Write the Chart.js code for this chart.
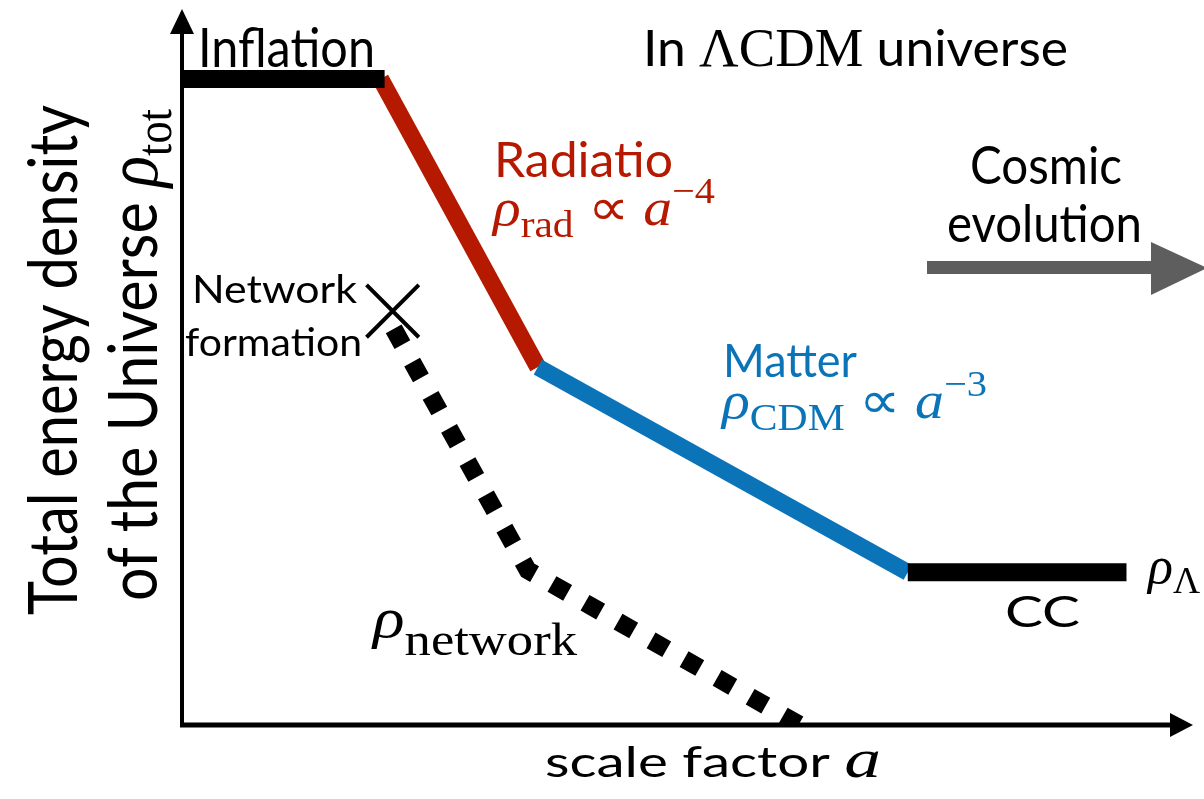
<!DOCTYPE html>
<html>
<head>
<meta charset="utf-8">
<script src="https://cdn.jsdelivr.net/npm/chart.js@4.4.1/dist/chart.umd.min.js"></script>
<style>
  html, body { margin: 0; padding: 0; background: #fff; }
  #wrap { width: 1204px; height: 799px; }
</style>
</head>
<body>
<div id="wrap"><canvas id="myChart" width="1204" height="799"></canvas></div>
<script>
// schematic units: log scale factor (x) and log total energy density (y), 0..10
const inflationA = [0, 2.01];
const inflationRho = [9.1, 9.1];
const radiationA = [1.97, 3.53];
const radiationRho = [9.1, 5.04];
const matterA = [3.53, 7.2];
const matterRho = [5.04, 2.15];
const ccA = [7.2, 9.37];
const ccRho = [2.15, 2.15];
const networkA = [2.1, 3.43, 6.13];
const networkRho = [5.58, 2.18, 0];
const formationA = [2.09];
const formationRho = [5.83];

const RED = '#b51a00';
const BLUE = '#0b74b9';

function pts(xs, ys) {
  return xs.map((x, i) => ({ x: x, y: ys[i] }));
}

function segment(xs, ys, color, width) {
  return {
    data: pts(xs, ys),
    showLine: true,
    borderColor: color,
    borderWidth: width,
    borderCapStyle: 'butt',
    borderJoinStyle: 'miter',
    pointRadius: 0,
    tension: 0
  };
}

// text labels: parts = [text, style, relative size, baseline shift (em)]
const labels = [
  { x: 198, y: 67, w: 177, size: 54, color: '#000', parts: [['Inflation', 's', 1, 0]] },
  { x: 643, y: 66, w: 425, size: 51, color: '#000',
    parts: [['In ', 's', 1, 0], ['ΛCDM', 'r', 1.06, 0], [' universe', 's', 1, 0]] },
  { x: 494, y: 177, w: 179, size: 48, color: RED, parts: [['Radiatio', 's', 1, 0]] },
  { x: 493, y: 225, w: 222, size: 52, color: RED,
    parts: [['ρ', 'i', 1, 0], ['rad', 'r', 0.72, 0.24], [' ∝ ', 'r', 1, 0], ['a', 'i', 1, 0], ['−4', 'r', 0.7, -0.42]] },
  { x: 723, y: 377, w: 134, size: 46, color: BLUE, parts: [['Matter', 's', 1, 0]] },
  { x: 722, y: 418, w: 265, size: 52, color: BLUE,
    parts: [['ρ', 'i', 1, 0], ['CDM', 'r', 0.72, 0.24], [' ∝ ', 'r', 1, 0], ['a', 'i', 1, 0], ['−3', 'r', 0.7, -0.42]] },
  { x: 970, y: 184, w: 152, size: 52, color: '#000', parts: [['Cosmic', 's', 1, 0]] },
  { x: 947, y: 242, w: 195, size: 52, color: '#000', parts: [['evolution', 's', 1, 0]] },
  { x: 192, y: 303, w: 165, size: 39, color: '#000', parts: [['Network', 's', 1, 0]] },
  { x: 185, y: 356, w: 177, size: 39, color: '#000', parts: [['formation', 's', 1, 0]] },
  { x: 373, y: 637, w: 204, size: 58, color: '#000',
    parts: [['ρ', 'i', 1, 0], ['network', 'r', 0.8, 0.31]] },
  { x: 1148, y: 583, size: 52, color: '#000',
    parts: [['ρ', 'i', 1, 0], ['Λ', 'r', 0.72, 0.2]] },
  { x: 1005, y: 627, w: 75, size: 42, color: '#000', parts: [['CC', 's', 1, 0]] },
  { x: 545, y: 777, w: 336, size: 42, color: '#000',
    parts: [['scale factor ', 's', 1, 0], ['a', 'i', 1.3, 0]] },
  { x: 77, y: 615, w: 510, size: 68, rot: -Math.PI / 2, color: '#000',
    parts: [['Total energy density', 's', 1, 0]] },
  { x: 157, y: 601, w: 492, size: 68, rot: -Math.PI / 2, color: '#000',
    parts: [['of the Universe ', 's', 1, 0], ['ρ', 'i', 1.1, 0], ['tot', 'r', 0.75, 0.2]] }
];

function fontFor(p, size) {
  const sz = size * p[2];
  if (p[1] === 'i') return 'italic ' + sz + 'px "Liberation Serif", serif';
  if (p[1] === 'r') return sz + 'px "Liberation Serif", serif';
  return sz + 'px Lato, sans-serif';
}

function drawRich(ctx, spec) {
  const widths = [];
  let total = 0;
  spec.parts.forEach(p => {
    ctx.font = fontFor(p, spec.size);
    const w = ctx.measureText(p[0]).width;
    widths.push(w);
    total += w;
  });
  const sx = spec.w ? spec.w / total : 1;
  ctx.save();
  ctx.translate(spec.x, spec.y);
  if (spec.rot) ctx.rotate(spec.rot);
  ctx.scale(sx, 1);
  ctx.fillStyle = spec.color;
  ctx.textBaseline = 'alphabetic';
  ctx.textAlign = 'left';
  let cx = 0;
  spec.parts.forEach((p, i) => {
    ctx.font = fontFor(p, spec.size);
    ctx.fillText(p[0], cx, p[3] * spec.size);
    cx += widths[i];
  });
  ctx.restore();
}

const decorPlugin = {
  id: 'decor',
  afterDatasetsDraw(chart) {
    const ctx = chart.ctx;
    const a = chart.chartArea;
    ctx.save();
    ctx.fillStyle = '#000';
    ctx.strokeStyle = '#000';
    // y axis with arrow
    ctx.lineWidth = 4;
    ctx.beginPath();
    ctx.moveTo(a.left, a.bottom + 2);
    ctx.lineTo(a.left, a.top + 15);
    ctx.stroke();
    ctx.beginPath();
    ctx.moveTo(a.left, a.top - 6);
    ctx.lineTo(a.left - 12, a.top + 19);
    ctx.lineTo(a.left + 12, a.top + 19);
    ctx.closePath();
    ctx.fill();
    // x axis with arrow
    ctx.lineWidth = 5;
    ctx.beginPath();
    ctx.moveTo(a.left - 2, a.bottom);
    ctx.lineTo(a.right - 15, a.bottom);
    ctx.stroke();
    ctx.beginPath();
    ctx.moveTo(a.right + 3, a.bottom);
    ctx.lineTo(a.right - 20, a.bottom - 12);
    ctx.lineTo(a.right - 20, a.bottom + 12);
    ctx.closePath();
    ctx.fill();
    // cosmic evolution arrow
    ctx.fillStyle = '#5e5e5e';
    ctx.fillRect(927, 261, 228, 13);
    ctx.beginPath();
    ctx.moveTo(1151, 242);
    ctx.lineTo(1207, 268);
    ctx.lineTo(1151, 295);
    ctx.closePath();
    ctx.fill();
    ctx.restore();

    labels.forEach(l => drawRich(ctx, l));
  }
};

const ctx = document.getElementById('myChart').getContext('2d');

const chart = new Chart(ctx, {
  type: 'scatter',
  data: {
    datasets: [
      segment(inflationA, inflationRho, '#000', 18),
      segment(ccA, ccRho, '#000', 18),
      segment(matterA, matterRho, BLUE, 17),
      segment(radiationA, radiationRho, RED, 17),
      Object.assign(segment(networkA, networkRho, '#000', 18), {
        borderDash: [18, 20],
        clip: 0
      }),
      {
        data: pts(formationA, formationRho),
        pointStyle: 'crossRot',
        pointRadius: 37,
        pointBorderWidth: 4,
        pointBorderColor: '#000',
        borderColor: '#000',
        showLine: false,
        clip: false
      }
    ]
  },
  options: {
    responsive: false,
    animation: false,
    devicePixelRatio: 1,
    events: [],
    layout: {
      autoPadding: false,
      padding: { left: 182, right: 14, top: 15, bottom: 74 }
    },
    plugins: {
      legend: { display: false },
      tooltip: { enabled: false },
      title: { display: false }
    },
    scales: {
      x: { type: 'linear', min: 0, max: 10, display: false },
      y: { type: 'linear', min: 0, max: 10, display: false }
    }
  },
  plugins: [decorPlugin]
});
</script>
</body>
</html>
